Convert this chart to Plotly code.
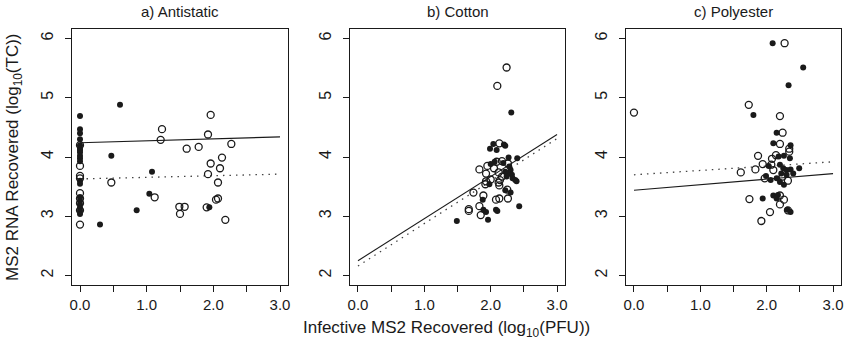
import plotly.graph_objects as go

# ---------------- data ----------------
panel_titles = ["a) Antistatic", "b) Cotton", "c) Polyester"]

# a) Antistatic
a_filled_x = [0]*19 + [0.30, 0.60, 0.47, 0.85, 1.08, 1.04, 1.94]
a_filled_y = [4.69, 4.47, 4.40, 4.30, 4.20, 4.15, 4.12, 4.08, 4.02, 3.98, 3.93,
              3.60, 3.55, 3.32, 3.26, 3.20, 3.14, 3.09, 3.04,
              2.86, 4.88, 4.02, 3.10, 3.75, 3.38, 3.15]
a_open_x = [0]*9 + [0.47, 1.12, 1.21, 1.23, 1.49, 1.57, 1.50, 1.60, 1.78, 1.92,
                    1.96, 1.92, 1.96, 2.13, 2.10, 2.27, 2.07, 2.04, 2.07, 1.90, 2.18]
a_open_y = [4.20, 3.85, 3.68, 3.64, 3.39, 3.30, 3.22, 3.10, 2.86,
            3.57, 3.32, 4.29, 4.47, 3.16, 3.16, 3.04, 4.14, 4.17, 4.38,
            4.71, 3.71, 3.89, 3.99, 3.81, 4.22, 3.57, 3.28, 3.30, 3.15, 2.94]

# b) Cotton
b_filled_x = [2.31, 2.04, 1.99, 2.09, 2.20, 2.22, 2.27, 2.40, 2.00, 2.06, 2.19,
              2.28, 2.30, 2.27, 2.32, 2.33, 2.37, 2.39, 2.22, 2.24,
              1.98, 2.22, 2.30, 1.88, 2.43, 1.89, 1.93, 2.08, 2.10, 1.96, 1.49]
b_filled_y = [4.75, 4.22, 4.14, 4.12, 4.21, 4.19, 3.99, 3.98, 3.88, 3.92, 3.90,
              3.84, 3.78, 3.72, 3.70, 3.64, 3.61, 3.59, 3.75, 3.67,
              3.54, 3.44, 3.40, 3.28, 3.17, 3.11, 3.07, 3.11, 3.09, 2.94, 2.92]
b_open_x = [2.24, 2.10, 2.13, 2.17, 2.09, 2.26, 1.95, 1.83, 1.93, 2.12, 2.05,
            2.17, 2.14, 2.12, 2.00, 1.92, 1.93, 2.13, 1.74, 2.25, 1.89,
            2.08, 2.13, 2.26, 1.83, 1.67, 1.67, 1.85]
b_open_y = [5.51, 5.20, 4.23, 3.93, 3.92, 3.89, 3.85, 3.79, 3.72, 3.74, 3.81,
            3.67, 3.61, 3.57, 3.62, 3.54, 3.59, 3.52, 3.40, 3.45, 3.35,
            3.28, 3.30, 3.30, 3.17, 3.12, 3.09, 3.02]

# c) Polyester
c_filled_x = [2.09, 2.55, 2.33, 1.80, 2.15, 2.10, 2.36, 2.35, 2.18, 2.26, 2.03,
              2.20, 2.49, 2.25, 2.30, 2.36, 2.40, 1.99, 2.06, 2.15, 2.20, 2.26,
              2.22, 2.30, 1.94, 2.10, 2.17, 2.15, 2.31, 2.36]
c_filled_y = [5.92, 5.51, 5.21, 4.71, 4.41, 4.23, 4.20, 3.98, 4.01, 4.02, 3.85,
              3.87, 3.81, 3.81, 3.78, 3.79, 3.72, 3.68, 3.61, 3.64, 3.58, 3.53,
              3.72, 3.70, 3.30, 3.35, 3.36, 3.30, 3.11, 3.07]
c_open_x = [0.00, 2.27, 1.73, 2.20, 2.24, 2.20, 2.34, 2.34, 1.87, 2.14, 2.08,
            1.94, 1.61, 1.83, 2.07, 2.10, 1.97, 2.24, 2.32, 1.74, 2.20, 2.26,
            2.20, 2.05, 2.32, 1.92]
c_open_y = [4.75, 5.92, 4.88, 4.69, 4.41, 4.22, 4.14, 4.09, 4.02, 4.03, 3.97,
            3.88, 3.74, 3.79, 3.87, 3.78, 3.64, 3.67, 3.60, 3.29, 3.35, 3.28,
            3.20, 3.07, 3.10, 2.92]

# regression lines (intercept, slope), solid and dotted
solid_fit = [(4.24, 0.033), (2.25, 0.71), (3.44, 0.093)]
dotted_fit = [(3.63, 0.027), (2.16, 0.717), (3.70, 0.073)]

x_tick_vals = [0, 1, 2, 3]
x_tick_text = ["0.0", "1.0", "2.0", "3.0"]
y_tick_vals = [2, 3, 4, 5, 6]

# ---------------- figure ----------------
W, H = 848, 346
FONT = "Liberation Sans, Arial, Helvetica, sans-serif"
INK = "#1a1a1a"

boxes_px = [(72, 288), (350, 565), (626, 841)]
top_px, bot_px = 29, 285

fig = go.Figure()

panels = [
    (a_filled_x, a_filled_y, a_open_x, a_open_y),
    (b_filled_x, b_filled_y, b_open_x, b_open_y),
    (c_filled_x, c_filled_y, c_open_x, c_open_y),
]

for i, (fx, fy, ox, oy) in enumerate(panels):
    xa = "x" if i == 0 else f"x{i+1}"
    ya = "y" if i == 0 else f"y{i+1}"
    b0, b1 = solid_fit[i]
    d0, d1 = dotted_fit[i]
    lx = [0, 3]
    fig.add_trace(go.Scatter(x=lx, y=[d0 + d1*v for v in lx], mode="lines",
                             line=dict(color="#444", width=1.3, dash="1.5px,5px"),
                             xaxis=xa, yaxis=ya, showlegend=False, hoverinfo="skip"))
    fig.add_trace(go.Scatter(x=lx, y=[b0 + b1*v for v in lx], mode="lines",
                             line=dict(color=INK, width=1.1),
                             xaxis=xa, yaxis=ya, showlegend=False, hoverinfo="skip"))
    fig.add_trace(go.Scatter(x=ox, y=oy, mode="markers",
                             marker=dict(symbol="circle-open", size=7, color=INK,
                                         line=dict(width=1.3, color=INK)),
                             xaxis=xa, yaxis=ya, showlegend=False))
    fig.add_trace(go.Scatter(x=fx, y=fy, mode="markers",
                             marker=dict(symbol="circle", size=6, color=INK),
                             xaxis=xa, yaxis=ya, showlegend=False))

layout = dict(
    width=W, height=H,
    margin=dict(l=0, r=0, t=0, b=0),
    paper_bgcolor="white", plot_bgcolor="white",
    font=dict(family=FONT, color=INK),
    showlegend=False,
)

ydom = [1 - bot_px / H, 1 - top_px / H]
for i, (l, r) in enumerate(boxes_px):
    xk = "xaxis" if i == 0 else f"xaxis{i+1}"
    yk = "yaxis" if i == 0 else f"yaxis{i+1}"
    xa = "x" if i == 0 else f"x{i+1}"
    ya = "y" if i == 0 else f"y{i+1}"
    layout[xk] = dict(domain=[l / W, r / W], range=[-0.12, 3.12], anchor=ya,
                      tickmode="array", tickvals=x_tick_vals, ticktext=x_tick_text,
                      ticks="outside", ticklen=6, tickwidth=1, tickcolor=INK,
                      minor=dict(tick0=0, dtick=0.5, ticks="outside", ticklen=6,
                                 tickwidth=1, tickcolor=INK, showgrid=False),
                      showline=True, linecolor=INK, linewidth=1, mirror=True,
                      showgrid=False, zeroline=False, automargin=False,
                      tickfont=dict(size=15, family=FONT, color=INK))
    layout[yk] = dict(domain=ydom, range=[1.84, 6.16], anchor=xa,
                      tickmode="array", tickvals=y_tick_vals,
                      ticktext=[str(v) for v in y_tick_vals],
                      ticks="outside", ticklen=6, tickwidth=1, tickcolor=INK,
                      tickangle=-90, ticklabelstandoff=6,
                      showline=True, linecolor=INK, linewidth=1, mirror=True,
                      showgrid=False, zeroline=False, automargin=False,
                      tickfont=dict(size=16, family=FONT, color=INK))

annotations = []
for i, (l, r) in enumerate(boxes_px):
    annotations.append(dict(text=panel_titles[i], x=(l + r) / 2 / W, y=1 - 12 / H,
                            xref="paper", yref="paper", showarrow=False,
                            xanchor="center", yanchor="middle",
                            font=dict(size=15, family=FONT, color=INK)))
annotations.append(dict(text="MS2 RNA Recovered (log<sub>10</sub>(TC))",
                        x=14 / W, y=1 - 157 / H, xref="paper", yref="paper",
                        showarrow=False, textangle=-90, xanchor="center", yanchor="middle",
                        font=dict(size=17, family=FONT, color=INK)))
annotations.append(dict(text="Infective MS2 Recovered (log<sub>10</sub>(PFU))",
                        x=446 / W, y=1 - 329 / H, xref="paper", yref="paper",
                        showarrow=False, xanchor="center", yanchor="middle",
                        font=dict(size=17, family=FONT, color=INK)))
layout["annotations"] = annotations

fig.update_layout(**layout)
fig.write_html("out.html",
               config={"displayModeBar": False},
               post_script="document.body.style.margin='0';document.body.style.padding='0';")
